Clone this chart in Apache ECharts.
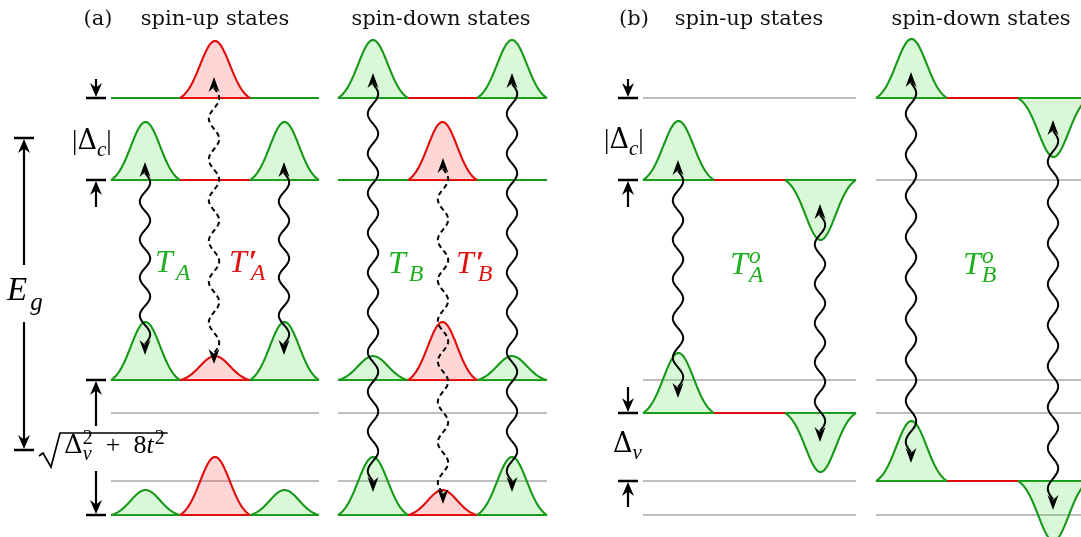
<!DOCTYPE html>
<html><head><meta charset="utf-8">
<script src="https://cdn.jsdelivr.net/npm/echarts@6/dist/echarts.min.js"></script>
<style>html,body{margin:0;padding:0;background:#fff}#c{width:1081px;height:537px}</style>
</head><body><div id="c"></div>
<script>
// ---------------- data (diagram units = pixels of the 1081x537 frame) ----------------
// Energy-level segments: [x0, x1, y, kind]  kind: g = green, r = red, k = grey
const levelLines = [
  // (a) spin-up
  [111,180,98,'g'],[180,250,98,'r'],[250,319,98,'g'],
  [111,180,180,'g'],[180,250,180,'r'],[250,319,180,'g'],
  [111,180,380,'g'],[180,250,380,'r'],[250,319,380,'g'],
  [111,319,413,'k'],[111,319,481,'k'],
  [111,180,515,'g'],[180,250,515,'r'],[250,319,515,'g'],
  // (a) spin-down
  [338,408,98,'g'],[408,477,98,'r'],[477,547,98,'g'],
  [338,408,180,'g'],[408,477,180,'r'],[477,547,180,'g'],
  [338,408,380,'g'],[408,477,380,'r'],[477,547,380,'g'],
  [338,547,413,'k'],[338,547,481,'k'],
  [338,408,515,'g'],[408,477,515,'r'],[477,547,515,'g'],
  // (b) spin-up
  [643,856,98,'k'],
  [643,714,180,'g'],[714,785,180,'r'],[785,856,180,'g'],
  [643,856,380,'k'],
  [643,714,413,'g'],[714,785,413,'r'],[785,856,413,'g'],
  [643,856,481,'k'],[643,856,515,'k'],
  // (b) spin-down
  [876,947,98,'g'],[947,1018,98,'r'],[1018,1089,98,'g'],
  [876,1089,180,'k'],[876,1089,380,'k'],[876,1089,413,'k'],
  [876,947,481,'g'],[947,1018,481,'r'],[1018,1089,481,'g'],
  [876,1089,515,'k']
];
// Density peaks: [x0, x1, baseY, amplitude (+ up, - down), kind]
const peaks = [
  [180,250,98,57,'r'],
  [111,180,180,58,'g'],[250,319,180,58,'g'],
  [111,180,380,58,'g'],[180,250,380,24,'r'],[250,319,380,58,'g'],
  [111,180,515,25,'g'],[180,250,515,58,'r'],[250,319,515,25,'g'],
  [338,408,98,58,'g'],[477,547,98,58,'g'],
  [408,477,180,58,'r'],
  [338,408,380,24,'g'],[408,477,380,58,'r'],[477,547,380,24,'g'],
  [338,408,515,58,'g'],[408,477,515,25,'r'],[477,547,515,58,'g'],
  [643,714,180,59,'g'],[785,856,180,-60,'g'],
  [643,714,413,60,'g'],[785,856,413,-59,'g'],
  [876,947,98,59,'g'],[1018,1089,98,-59,'g'],
  [876,947,481,60,'g'],[1018,1089,481,-60,'g']
];
// Transitions (wavy double arrows): [x, yTop, yBottom, dashed]
const transitions = [
  [145,162,355,0],[284,162,355,0],[214,77,364,1],
  [373,73,492,0],[512,73,492,0],[443,158,504,1],
  [678,160,398,0],[820,204,442,0],[911,72,463,0],[1053,120,510,0]
];
// Dimension bars: [x0, x1, y]
const markerBars = [
  [86,106,98],[86,106,180],[86,106,380],[86,106,515],
  [14,34,138],[14,34,450],
  [618,638,98],[618,638,180],[618,638,413],[618,638,481]
];
// Dimension arrows: [x, yFrom, yTo]
const markerArrows = [
  [96,79,98],[96,207,180],[96,426,380],[96,471,515],
  [24,265,138],[24,322,450],
  [628,79,98],[628,207,180],[628,387,413],[628,507,481]
];
// Titles: [text, xCenter, yBaseline]
const titles = [
  ['(a)',98,27],['spin-up states',215,27],['spin-down states',441,27],
  ['(b)',634,27],['spin-up states',749,27],['spin-down states',981,27]
];
// Math labels: anchor (left, baseline), colour key, size, parts [text, kind]
const mathLabels = [
  {x:155,y:274,c:'g',s:32,parts:[['T','n'],['A','b']]},
  {x:229,y:274,c:'r',s:32,parts:[['T','n'],['\u2032','pr'],['A','b']]},
  {x:388,y:275,c:'g',s:32,parts:[['T','n'],['B','b']]},
  {x:456,y:275,c:'r',s:32,parts:[['T','n'],['\u2032','pr'],['B','b']]},
  {x:730,y:276,c:'g',s:32,parts:[['T','n'],['o','p'],['A','b']]},
  {x:963,y:276,c:'g',s:32,parts:[['T','n'],['o','p'],['B','b']]},
  {x:7,y:303,c:'k',s:33,parts:[['E','n'],['g','b']]},
  {x:72,y:151,c:'k',s:27,parts:[['|','u'],['\u0394','G'],['c','b'],['|','u']]},
  {x:604,y:150,c:'k',s:27,parts:[['|','u'],['\u0394','G'],['c','b'],['|','u']]},
  {x:613,y:454,c:'k',s:27,parts:[['\u0394','G'],['v','b']]},
  {x:64,y:455,c:'k',s:26,radical:true,parts:[['\u0394','G'],['2','pu'],['v','b'],['\u2002+\u2002','u'],['8','u'],['t','n'],['2','pu']]}
];

// ---------------- styles ----------------
const LINE = {g:'#18981a', r:'#e00b0b', k:'#bdbdbd'};
const FILL = {g:'rgba(60,220,60,0.2)', r:'rgba(255,70,70,0.22)'};
const TEXTC = {g:'#1fae1f', r:'#de1414', k:'#000'};
const SERIF = '"Liberation Serif", "DejaVu Serif", serif';
const GREEK = '"DejaVu Serif", "Liberation Serif", serif';

const mctx = document.createElement('canvas').getContext('2d');
function measure(t, font){ mctx.font = font; return mctx.measureText(t).width; }

function arrowHead(x, y, dir, len, half){
  const b = y - dir*len, n = y - dir*len*0.68;
  return {type:'polygon', shape:{points:[[x,y],[x-half,b],[x,n],[x+half,b]]}, style:{fill:'#000'}};
}

function layoutMath(lab){
  const S = lab.s; let cx = 0; const out = []; let supX = null, supW = 0; let prev = null;
  lab.parts.forEach(([t,k])=>{
    const italic = (k==='n'||k==='b'||k==='p');
    const small = (k==='b'||k==='p'||k==='pu');
    const fs = small ? Math.round(S*0.76) : S;
    const fam = k==='G' ? GREEK : SERIF;
    const font = (italic?'italic ':'') + (k==='pr'?'bold ':'') + fs + 'px ' + fam;
    const w = measure(t, font);
    let dy = 0;
    if (k==='b') dy = S*0.26;
    if (k==='p'||k==='pu') dy = -S*0.36;
    if (k==='pr') dy = S*0.02;
    let x;
    const isSup = (k==='p'||k==='pu'||k==='pr');
    if (k==='b' && supX !== null){ x = supX + (prev==='pr'?2:0); cx = Math.max(supX + supW, x + w); supX = null; }
    else {
      x = cx + (k==='b' && prev==='n' ? 3 : 0);
      if (isSup){ x += (prev==='n'?(k==='pr'?2:1):0); supX = x; supW = w; } else supX = null;
      cx = x + w;
    }
    out.push({t, font, fs, x, dy, greek: k==='G'});
    prev = k;
  });
  return {items: out, width: cx};
}

const chart = echarts.init(document.getElementById('c'), null, {renderer:'canvas'});

const option = {
  animation:false,
  grid:{left:0,right:0,top:0,bottom:0,containLabel:false},
  xAxis:{type:'value',min:0,max:1081,show:false},
  yAxis:{type:'value',min:0,max:537,inverse:true,show:false},
  series:[
    { // energy levels
      type:'custom', z:1, clip:false,
      data: levelLines.map(d=>[d[0],d[1],d[2]]),
      encode:{x:[0,1],y:2},
      renderItem:(params, api)=>{
        const kind = levelLines[params.dataIndex][3];
        const a = api.coord([api.value(0), api.value(2)]);
        const b = api.coord([api.value(1), api.value(2)]);
        return {type:'line', shape:{x1:a[0],y1:a[1],x2:b[0],y2:b[1]},
          style:{stroke:LINE[kind], lineWidth: kind==='k'?2:2.2}};
      }
    },
    { // gaussian densities
      type:'custom', z:2, clip:false,
      data: peaks.map(d=>[d[0],d[1],d[2],d[3]]),
      encode:{x:[0,1],y:2},
      renderItem:(params, api)=>{
        const kind = peaks[params.dataIndex][4];
        const x0 = api.value(0), x1 = api.value(1), y = api.value(2), amp = api.value(3);
        const w = x1 - x0, c = (x0+x1)/2, sg = w/4.7;
        const e0 = Math.exp(-(w/2)*(w/2)/(2*sg*sg));
        const pts = [];
        const N = 80;
        for (let i=0;i<=N;i++){
          const xx = x0 + w*i/N, u = xx - c;
          const f = (Math.exp(-u*u/(2*sg*sg)) - e0)/(1-e0);
          pts.push(api.coord([xx, y - amp*f]));
        }
        return {type:'group', children:[
          {type:'polygon', shape:{points:pts}, style:{fill:FILL[kind], stroke:null}},
          {type:'polyline', shape:{points:pts}, style:{stroke:LINE[kind], lineWidth:2.1, fill:null}}
        ]};
      }
    },
    { // wavy transition arrows
      type:'custom', z:3, clip:false,
      data: transitions.map(d=>[d[0],d[1],d[2]]),
      encode:{x:0,y:[1,2]},
      renderItem:(params, api)=>{
        const dashed = transitions[params.dataIndex][3];
        const top = api.coord([api.value(0), api.value(1)]);
        const bot = api.coord([api.value(0), api.value(2)]);
        const x = top[0], yt = top[1], yb = bot[1];
        const y0 = yt + 11, y1 = yb - 11, L = y1 - y0;
        const n = Math.max(1, Math.round(L/20));
        const pts = [];
        const M = n*14;
        for (let i=0;i<=M;i++){ const t = i/M; pts.push([x + 5.2*Math.sin(t*n*Math.PI), y0 + t*L]); }
        return {type:'group', children:[
          {type:'polyline', shape:{points:pts},
            style:{stroke:'#000', lineWidth:2, fill:null, lineDash: dashed?[5,3.5]:null}},
          arrowHead(x, yt, -1, 15, 5.5),
          arrowHead(x, yb, 1, 15, 5.5)
        ]};
      }
    },
    { // dimension bars
      type:'custom', z:3, clip:false,
      data: markerBars,
      encode:{x:[0,1],y:2},
      renderItem:(params, api)=>{
        const a = api.coord([api.value(0), api.value(2)]);
        const b = api.coord([api.value(1), api.value(2)]);
        return {type:'line', shape:{x1:a[0],y1:a[1],x2:b[0],y2:b[1]}, style:{stroke:'#000', lineWidth:2.5}};
      }
    },
    { // dimension arrows
      type:'custom', z:3, clip:false,
      data: markerArrows,
      encode:{x:0,y:[1,2]},
      renderItem:(params, api)=>{
        const f = api.coord([api.value(0), api.value(1)]);
        const t = api.coord([api.value(0), api.value(2)]);
        const dir = t[1] > f[1] ? 1 : -1;
        return {type:'group', children:[
          {type:'line', shape:{x1:f[0],y1:f[1],x2:t[0],y2:t[1]-dir*8}, style:{stroke:'#000', lineWidth:2.2}},
          arrowHead(t[0], t[1]-dir*1, dir, 14, 6)
        ]};
      }
    },
    { // titles
      type:'custom', z:4, clip:false,
      data: titles.map(d=>[d[1],d[2]]),
      encode:{x:0,y:1},
      renderItem:(params, api)=>{
        const p = api.coord([api.value(0), api.value(1)]);
        const fs = 21;
        return {type:'text', style:{text:titles[params.dataIndex][0], x:p[0], y:p[1]-fs*0.35,
          font: fs+'px "DejaVu Serif", serif', fill:'#111', textAlign:'center', textVerticalAlign:'middle'}};
      }
    },
    { // math labels
      type:'custom', z:4, clip:false,
      data: mathLabels.map(d=>[d.x,d.y]),
      encode:{x:0,y:1},
      renderItem:(params, api)=>{
        const lab = mathLabels[params.dataIndex];
        const p = api.coord([api.value(0), api.value(1)]);
        const L = layoutMath(lab);
        const children = L.items.map(it=>({type:'text', style:{text:it.t, x:p[0]+it.x,
          y:p[1]+it.dy-it.fs*(it.greek?0.35:0.34), font:it.font, fill:TEXTC[lab.c],
          textAlign:'left', textVerticalAlign:'middle'}}));
        if (lab.radical){
          const X = p[0], Y = p[1];
          children.push({type:'polyline', shape:{points:[[X-25,Y+1],[X-21,Y-2],[X-13,Y+12],[X-4,Y-22],[X+L.width+3,Y-22]]},
            style:{stroke:'#000', lineWidth:1.7, fill:null, lineJoin:'miter'}});
        }
        return {type:'group', children};
      }
    }
  ]
};
chart.setOption(option);
</script>
</body></html>
